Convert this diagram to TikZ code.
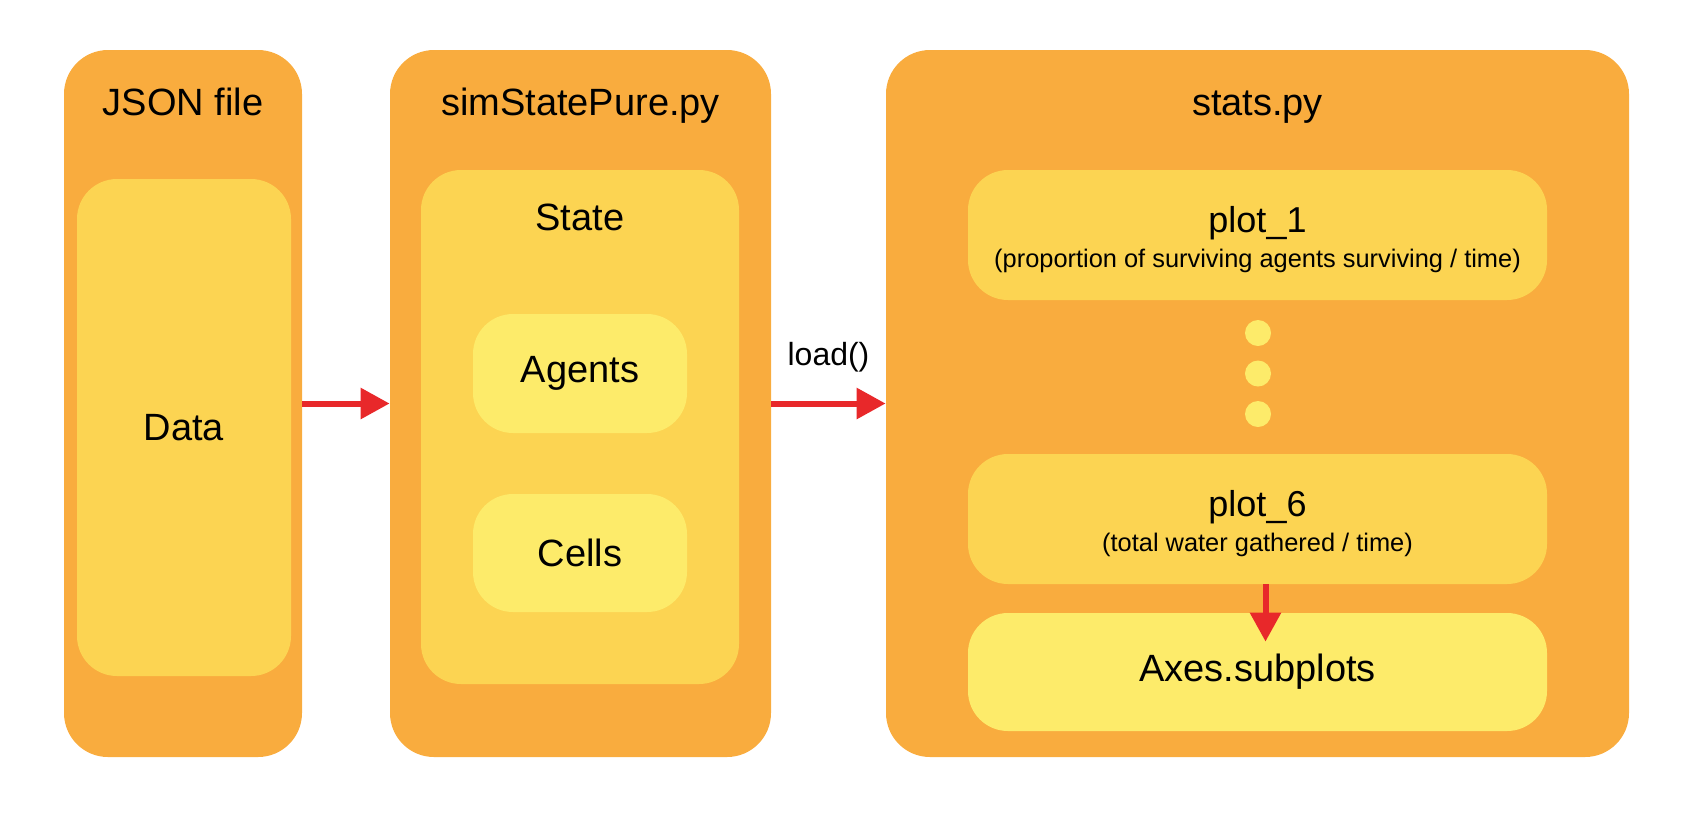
\documentclass[tikz,border=0pt]{standalone}
\usepackage{fontspec}
\setmainfont{Liberation Sans}
\usetikzlibrary{arrows.meta}
\definecolor{outerc}{HTML}{F9AC3E}
\definecolor{midc}{HTML}{FCD452}
\definecolor{innerc}{HTML}{FDEB6A}
\definecolor{arrowc}{HTML}{E8282A}
\begin{document}
\begin{tikzpicture}[x=0.5pt, y=-0.5pt,
    outerbox/.style={rectangle, rounded corners=22pt, fill=outerc,
        minimum height=353.5pt, inner sep=0pt},
    midbox/.style={rectangle, rounded corners=20pt, fill=midc, inner sep=0pt},
    innerbox/.style={rectangle, rounded corners=20pt, fill=innerc,
        minimum width=107pt, inner sep=0pt, font=\fontsize{19}{23}\selectfont},
    title/.style={anchor=base, font=\fontsize{19}{23}\selectfont},
    sub/.style={anchor=base, font=\fontsize{12.7}{16}\selectfont},
    dot/.style={circle, fill=innerc, minimum size=13pt, inner sep=0pt},
    flow/.style={draw=arrowc, line width=3pt, -{Triangle[length=14.5pt, width=15pt]}}
]
    \useasboundingbox (0,0) rectangle (1686,826);
    % outer boxes
    \node[outerbox, minimum width=119pt] (json) at (183,403.5) {};
    \node[outerbox, minimum width=190.5pt] (sim) at (580.5,403.5) {};
    \node[outerbox, minimum width=371.5pt] (stats) at (1257.5,403.5) {};
    \node[title] (jsont) at (183,115) {JSON file};
    \node[title] (simt) at (580.5,115) {simStatePure.py};
    \node[title] (statst) at (1257.5,115) {stats.py};
    % JSON file
    \node[midbox, minimum width=107pt, minimum height=248.5pt,
        font=\fontsize{19}{23}\selectfont] (data) at (184,427.5) {Data};
    % simStatePure.py
    \node[midbox, minimum width=159pt, minimum height=257pt] (state) at (580,427) {};
    \node[title] (statet) at (580,230) {State};
    \node[innerbox, minimum height=59.5pt] (agents) at (580,373.5) {Agents};
    \node[innerbox, minimum height=59pt] (cells) at (580,553) {Cells};
    % stats.py
    \node[midbox, minimum width=289.5pt, minimum height=65pt] (plot1) at (1257.5,235) {};
    \node[title, font=\fontsize{18}{22}\selectfont] (plot1t) at (1257.5,232) {plot\_1};
    \node[sub] (plot1s) at (1257.5,267) {(proportion of surviving agents surviving / time)};
    \foreach \y [count=\i] in {333,373.5,414}
        \node[dot] (dot\i) at (1258,\y) {};
    \node[midbox, minimum width=289.5pt, minimum height=65pt] (plot6) at (1257.5,519) {};
    \node[title, font=\fontsize{18}{22}\selectfont] (plot6t) at (1257.5,516) {plot\_6};
    \node[sub] (plot6s) at (1257.5,551) {(total water gathered / time)};
    \node[innerbox, minimum width=289.5pt, minimum height=59pt] (axes) at (1257.5,672) {Axes.subplots};
    % arrows
    \draw[flow] (json.east) -- (sim.west);
    \draw[flow] (sim.east) -- (stats.west)
        node[midway, yshift=23pt, text=black, font=\fontsize{16}{19}\selectfont] (load) {load()};
    \draw[flow] ([xshift=4pt]plot6.south) -- ([xshift=4pt, yshift=-14.5pt]axes.north);
\end{tikzpicture}
\end{document}
